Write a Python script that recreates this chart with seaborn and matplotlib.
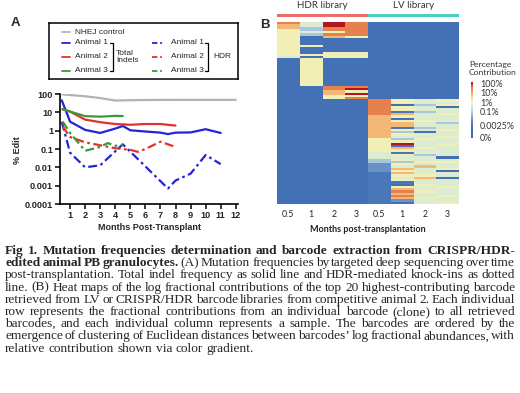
import matplotlib
matplotlib.use('Agg')
import matplotlib.pyplot as plt
import numpy as np
import pandas as pd
import seaborn as sns
from matplotlib.colors import LinearSegmentedColormap
from matplotlib.font_manager import FontProperties

# ---- panel A data (% edit) ----
nhej_months = [0.5, 1, 2, 3, 4, 5, 6, 8, 10, 12]
nhej_edit = [95, 88, 75, 60, 44, 46, 47, 48, 48, 48]

a1_months = [0.45, 1, 2, 3, 4, 4.5, 5, 6, 7, 7.5, 8, 9, 10, 11]
a1_indel = [45, 3.1, 1.1, 0.75, 1.3, 1.8, 1.05, 0.9, 0.78, 0.65, 0.78, 0.8, 1.2, 0.75]
a2_months = [0.5, 1, 2, 3, 4, 5, 6, 7, 8]
a2_indel = [14.5, 11, 4, 2.9, 2.3, 2.1, 2.3, 2.3, 1.9]
a3_months = [0.5, 1, 2, 3, 4, 4.5]
a3_indel = [15, 11, 6.2, 5.8, 6.4, 6.3]

a1_hdr_months = [0.45, 1, 2, 3, 4.5, 7.5, 8, 9, 10, 11]
a1_hdr = [3, 0.063, 0.01, 0.013, 0.18, 0.0007, 0.0019, 0.0045, 0.047, 0.015]
a2_hdr_months = [0.5, 1, 2, 3, 4, 5, 5.5, 6, 7, 8]
a2_hdr = [1.7, 0.45, 0.23, 0.16, 0.11, 0.09, 0.07, 0.1, 0.25, 0.13]
a3_hdr_months = [0.5, 1, 2, 3, 3.5, 4, 4.5]
a3_hdr = [3.2, 0.75, 0.08, 0.13, 0.21, 0.15, 0.17]

# ---- panel B data: colour level per cell (0 = 0% ... 9 = 100%) ----
# columns: HDR 0.5,1,2,3 | LV 0.5,1,2,3
sample_labels = ['0.5', '1', '2', '3', '0.5', '1', '2', '3']
hdr_rows = [
    '85981111', '75981111', '74881111', '64881111', '65681111', '64881111',
    '61761111', '61111111', '61111111', '61111111', '66111111', '61111111',
    '61111111', '61661111', '66661111', '51661111', '16111111', '16111111',
    '16111111', '16111111', '16111111', '16111111', '16111111', '16111111',
    '16111111', '16111111', '16111111', '16111111', '11881111', '11891111',
    '11761111', '11791111', '11661111', '11681111',
]
lv_rows = [
    '11118656', '11118655', '11118146', '11118651', '11118655', '11118245',
    '11118756', '11117655', '11117155', '11117665', '11117754', '11117755',
    '11117245', '11117656', '11117415', '11117655', '11117556', '11116465',
    '11116655', '11116956', '11116155', '11116765', '11116655', '11115255',
    '11115645', '11115551', '11114655', '11114466', '11113655', '11113575',
    '11113756', '11113651', '11112755', '11112665', '11112571', '11112655',
    '11112255', '11112165', '11112656', '11112755', '11112865', '11112755',
    '11112856', '11112765', '11112355', '11112156',
]
cbar_ticks = [0.0, 0.22, 0.48, 0.64, 0.82, 0.98]
cbar_labels = ['0%', '0.0025%', '0.1%', '1%', '10%', '100%']

caption = [
    [('Fig 1. Mutation frequencies determination and barcode extraction from CRISPR/HDR-', True)],
    [('edited animal PB granulocytes.', True),
     ('(A) Mutation frequencies by targeted deep sequencing over time', False)],
    [('post-transplantation. Total indel frequency as solid line and HDR-mediated knock-ins as dotted', False)],
    [('line. (B) Heat maps of the log fractional contributions of the top 20 highest-contributing barcode', False)],
    [('retrieved from LV or CRISPR/HDR barcode libraries from competitive animal 2. Each individual', False)],
    [('row represents the fractional contributions from an individual barcode (clone) to all retrieved', False)],
    [('barcodes, and each individual column represents a sample. The barcodes are ordered by the', False)],
    [('emergence of clustering of Euclidean distances between barcodes\u2019 log fractional abundances, with', False)],
    [('relative contribution shown via color gradient.', False)],
]

sns.set_style('ticks')
plt.rcParams['font.family'] = ['Liberation Sans', 'DejaVu Sans']

W, H = 520, 393
fig = plt.figure(figsize=(W / 100, H / 100), dpi=100)


def box(x0, y0, x1, y1):
    return [x0 / W, 1 - y1 / H, (x1 - x0) / W, (y1 - y0) / H]


def ft(x, y, s, **kw):
    return fig.text(x / W, 1 - y / H, s, **kw)


BLUE, RED, GREEN, GREY = '#2323d8', '#e4302a', '#3a9a3a', '#b3b3b3'
DASHDOT = (0, (4, 1.6, 1.2, 1.6))
CAL = ['Lato', 'DejaVu Sans']

# ---- panel A ----
axA = fig.add_axes(box(60, 94, 238, 204))
series = [
    (nhej_months, nhej_edit, GREY, '-'),
    (a1_months, a1_indel, BLUE, '-'),
    (a2_months, a2_indel, RED, '-'),
    (a3_months, a3_indel, GREEN, '-'),
    (a1_hdr_months, a1_hdr, BLUE, DASHDOT),
    (a2_hdr_months, a2_hdr, RED, DASHDOT),
    (a3_hdr_months, a3_hdr, GREEN, DASHDOT),
]
for xs, ys, c, ls in series:
    sns.lineplot(x=xs, y=ys, ax=axA, color=c, linestyle=ls, linewidth=1.6,
                 legend=False, errorbar=None)
axA.set_yscale('log')
axA.set_ylim(1e-4, 100)
axA.set_xlim(0.33, 12.15)
axA.set_yticks([1e-4, 1e-3, 1e-2, 0.1, 1, 10, 100])
axA.set_yticklabels(['0.0001', '0.001', '0.01', '0.1', '1', '10', '100'])
axA.yaxis.set_minor_locator(matplotlib.ticker.NullLocator())
axA.set_xticks(range(1, 13))
axA.tick_params(labelsize=6.6, width=1.1, length=3.5, pad=1.5, color='black')
for lab in axA.get_xticklabels() + axA.get_yticklabels():
    lab.set_fontweight('bold')
sns.despine(ax=axA)
for s in ['left', 'bottom']:
    axA.spines[s].set_linewidth(1.2)
    axA.spines[s].set_color('black')
axA.set_xlabel('')
axA.set_ylabel('')
ft(17, 150, '% Edit', rotation=90, ha='center', va='center', fontsize=6.5, fontweight='bold')
ft(149, 227, 'Months Post-Transplant', ha='center', va='center', fontsize=6.5, fontweight='bold')
ft(15, 23, 'A', ha='center', va='center', fontsize=9.5, fontweight='bold')

# legend box for panel A
legA = fig.add_axes(box(49, 23, 238, 79))
legA.set_xlim(49, 238)
legA.set_ylim(79, 23)
legA.set_xticks([])
legA.set_yticks([])
for s in legA.spines.values():
    s.set_linewidth(1.1)
    s.set_color('black')
legA.plot([62, 70], [32, 32], color=GREY, lw=1.3)
legA.text(75, 32, 'NHEJ control', va='center', fontsize=6)
for yy, c, name in [(43, BLUE, 'Animal 1'), (57, RED, 'Animal 2'), (71, GREEN, 'Animal 3')]:
    legA.plot([62, 70], [yy, yy], color=c, lw=1.3)
    legA.text(75, yy, name, va='center', fontsize=6)
    legA.plot([152, 164], [yy, yy], color=c, lw=1.3, linestyle=(0, (3, 1.5, 1, 1.5)))
    legA.text(171, yy, name, va='center', fontsize=6)
legA.plot([110, 113, 113, 110], [43, 43, 71, 71], color='black', lw=0.9)
legA.text(116, 57, 'Total\nIndels', va='center', fontsize=6, linespacing=1.05)
legA.plot([205, 208, 208, 205], [43, 43, 71, 71], color='black', lw=0.9)
legA.text(213, 57, 'HDR', va='center', fontsize=6)

# ---- panel B ----
mat = np.array([[int(ch) / 9 for ch in r] for r in hdr_rows + lv_rows])
cmap = LinearSegmentedColormap.from_list('pc', [
    (0.0, '#3d68ae'), (1 / 9, '#4470b5'), (2 / 9, '#4a77b9'), (3 / 9, '#6a91c6'),
    (4 / 9, '#a9c8dc'), (5 / 9, '#dcecd0'), (6 / 9, '#f1efb6'), (7 / 9, '#f3b877'),
    (8 / 9, '#e5824f'), (1.0, '#b3141f')])
axB = fig.add_axes(box(277, 22, 459, 204))
cax = fig.add_axes(box(470.5, 82, 473, 138))
sns.heatmap(pd.DataFrame(mat, columns=range(8)), ax=axB, cbar_ax=cax, cmap=cmap,
            vmin=0, vmax=1, xticklabels=sample_labels, yticklabels=False,
            linewidths=0)
axB.tick_params(axis='x', length=0, pad=4, labelsize=6.3, labelcolor='#222222')
for lab in axB.get_xticklabels():
    lab.set_family(CAL)
    lab.set_rotation(0)
axB.set_xlabel('')
cb = axB.collections[0].colorbar
cb.outline.set_visible(False)
cb.set_ticks(cbar_ticks)
cb.set_ticklabels(cbar_labels)
cax.tick_params(length=0, pad=5, labelsize=6.4, labelcolor='#333333')
for lab in cax.get_yticklabels():
    lab.set_family(CAL)
ft(469, 68.5, 'Percentage\nContribution', ha='left', va='center', fontsize=6.1,
   family=CAL, color='#333333', linespacing=1.15)

# column annotation bars
fig.add_artist(plt.Rectangle((277 / W, 1 - 17 / H), 91 / W, 3 / H,
                             transform=fig.transFigure, color='#ea6d6b', lw=0))
fig.add_artist(plt.Rectangle((368 / W, 1 - 17 / H), 91 / W, 3 / H,
                             transform=fig.transFigure, color='#4fcfc3', lw=0))
ft(322, 6, 'HDR library', ha='center', va='center', fontsize=7, family=CAL, color='#333333')
ft(414, 6, 'LV library', ha='center', va='center', fontsize=7, family=CAL, color='#333333')
ft(265, 25, 'B', ha='center', va='center', fontsize=9.5, fontweight='bold')
ft(368, 230, 'Months post-transplantation', ha='center', va='center', fontsize=6.5,
   fontweight='bold', family=CAL, color='#222222')

# ---- caption, justified word by word on a common baseline ----
renderer = fig.canvas.get_renderer()
left, right = 5, 515
cap_size = 9.6
serif = ['Liberation Serif', 'DejaVu Serif']
for i, segs in enumerate(caption):
    base = 254 + 12.2 * i
    words = [(w, bold) for txt, bold in segs for w in txt.split(' ')]
    objs, widths = [], []
    for w, bold in words:
        fp = FontProperties(family=serif, size=cap_size,
                            weight='bold' if bold else 'normal')
        _, _, d = renderer.get_text_width_height_descent(w, fp, ismath=False)
        _, _, dlp = renderer.get_text_width_height_descent('lp', fp, ismath=False)
        o = ft(0, base + max(d, dlp), w, fontproperties=fp, va='bottom')
        objs.append(o)
        widths.append(o.get_window_extent(renderer).width)
    if i < len(caption) - 1:
        gap = (right - left - sum(widths)) / (len(objs) - 1)
    else:
        gap = cap_size * 100 / 72 * 0.25
    x = left
    for o, w in zip(objs, widths):
        o.set_x(x / W)
        x += w + gap

fig.savefig('out.png', dpi=100)
